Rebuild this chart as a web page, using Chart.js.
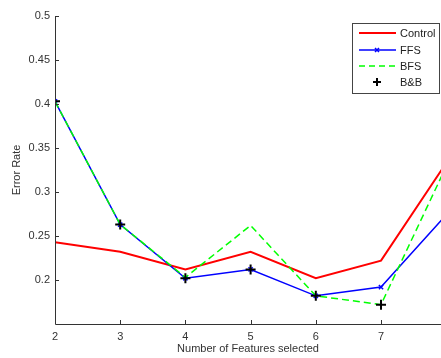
<!DOCTYPE html>
<html>
<head>
<meta charset="utf-8">
<script src="https://cdn.jsdelivr.net/npm/chart.js@4/dist/chart.umd.min.js"></script>
<style>
  html, body { margin: 0; padding: 0; background: #fff; }
  #wrap { width: 441px; height: 358px; }
</style>
</head>
<body>
<div id="wrap"><canvas id="chart" width="441" height="358"></canvas></div>
<script>
const features = [2, 3, 4, 5, 6, 7, 8];
const control = [0.243, 0.232, 0.212, 0.232, 0.202, 0.222, 0.333];
const ffs = [0.403, 0.263, 0.202, 0.212, 0.182, 0.192, 0.274];
const bfs = [0.403, 0.263, 0.203, 0.262, 0.182, 0.172, 0.329];
const bnb = [0.403, 0.263, 0.202, 0.212, 0.182, 0.172, null];
const xTicks = [2, 3, 4, 5, 6, 7];
const yTicks = [0.2, 0.25, 0.3, 0.35, 0.4, 0.45, 0.5];

const toPoints = (vals) => features.map((x, i) => ({ x: x, y: vals[i] }));

const axisColor = '#333';

// MATLAB style inward ticks and the legend box
const matlabAxes = {
    id: 'matlabAxes',
    afterDraw(chart) {
        const ctx = chart.ctx;
        const area = chart.chartArea;
        const xs = chart.scales.x;
        const ys = chart.scales.y;
        ctx.save();
        ctx.strokeStyle = axisColor;
        ctx.lineWidth = 1;
        ctx.beginPath();
        ctx.moveTo(area.left + 0.5, area.top);
        ctx.lineTo(area.left + 0.5, area.bottom + 0.5);
        ctx.lineTo(area.right, area.bottom + 0.5);
        xTicks.forEach(v => {
            const px = Math.round(xs.getPixelForValue(v)) + 0.5;
            ctx.moveTo(px, area.bottom);
            ctx.lineTo(px, area.bottom - 4);
        });
        yTicks.forEach(v => {
            const py = Math.round(ys.getPixelForValue(v)) + 0.5;
            ctx.moveTo(area.left, py);
            ctx.lineTo(area.left + 4, py);
        });
        ctx.stroke();

        // legend
        const bx = 352.5, by = 23.5, bw = 87, bh = 70;
        ctx.fillStyle = '#fff';
        ctx.fillRect(bx, by, bw, bh);
        ctx.strokeStyle = '#444';
        ctx.strokeRect(bx, by, bw, bh);
        const rows = [
            { label: 'Control', color: '#ff0000', y: 33, dash: [], line: true, width: 2 },
            { label: 'FFS', color: '#0000ff', y: 50, dash: [], line: true, width: 1.5, marker: 'x' },
            { label: 'BFS', color: '#00ff00', y: 66, dash: [6, 4], line: true, width: 1.5 },
            { label: 'B&B', color: '#000', y: 82, line: false, marker: '+' }
        ];
        ctx.font = '11px "Liberation Sans", Arial, sans-serif';
        ctx.textBaseline = 'middle';
        rows.forEach(r => {
            if (r.line) {
                ctx.strokeStyle = r.color;
                ctx.lineWidth = r.width;
                ctx.setLineDash(r.dash);
                ctx.beginPath();
                ctx.moveTo(359, r.y);
                ctx.lineTo(396, r.y);
                ctx.stroke();
                ctx.setLineDash([]);
            }
            if (r.marker === 'x') {
                ctx.strokeStyle = r.color;
                ctx.lineWidth = 1.5;
                ctx.beginPath();
                ctx.moveTo(375, r.y - 2); ctx.lineTo(379, r.y + 2);
                ctx.moveTo(375, r.y + 2); ctx.lineTo(379, r.y - 2);
                ctx.stroke();
            }
            if (r.marker === '+') {
                ctx.strokeStyle = r.color;
                ctx.lineWidth = 2;
                ctx.beginPath();
                ctx.moveTo(373, r.y); ctx.lineTo(381, r.y);
                ctx.moveTo(377, r.y - 4); ctx.lineTo(377, r.y + 4);
                ctx.stroke();
            }
            ctx.fillStyle = '#222';
            ctx.fillText(r.label, 400, r.y + 1);
        });
        ctx.restore();
    }
};

new Chart(document.getElementById('chart').getContext('2d'), {
    type: 'line',
    data: {
        datasets: [
            {
                label: 'Control',
                data: toPoints(control),
                borderColor: '#ff0000',
                borderWidth: 2,
                pointRadius: 0,
                order: 4
            },
            {
                label: 'FFS',
                data: toPoints(ffs),
                borderColor: '#0000ff',
                borderWidth: 1.5,
                pointStyle: 'crossRot',
                pointRadius: 3,
                pointBorderColor: '#0000ff',
                pointBorderWidth: 1.5,
                order: 3
            },
            {
                label: 'BFS',
                data: toPoints(bfs),
                borderColor: '#00ff00',
                borderWidth: 1.5,
                borderDash: [7, 4],
                pointRadius: 0,
                order: 2
            },
            {
                label: 'B&B',
                data: toPoints(bnb),
                showLine: false,
                pointStyle: 'cross',
                pointRadius: 5,
                pointBorderColor: '#000',
                pointBorderWidth: 2,
                order: 1
            }
        ]
    },
    options: {
        responsive: false,
        animation: false,
        layout: { autoPadding: false, padding: { top: 16, right: 0, left: 0, bottom: 0 } },
        plugins: {
            legend: { display: false },
            tooltip: { enabled: false }
        },
        elements: { line: { tension: 0 } },
        scales: {
            x: {
                type: 'linear',
                min: 2,
                max: 7.92,
                afterBuildTicks: (scale) => { scale.ticks = xTicks.map(v => ({ value: v })); },
                afterFit: (scale) => { scale.height = 34; },
                grid: { display: false, drawTicks: false },
                border: { display: false },
                ticks: {
                    color: axisColor,
                    padding: 6,
                    maxRotation: 0,
                    font: { family: '"Liberation Sans", Arial, sans-serif', size: 11 }
                },
                title: {
                    display: true,
                    text: 'Number of Features selected',
                    color: axisColor,
                    padding: { top: 0, bottom: 2 },
                    font: { family: '"Liberation Sans", Arial, sans-serif', size: 11 }
                }
            },
            y: {
                min: 0.15,
                max: 0.5,
                afterBuildTicks: (scale) => { scale.ticks = yTicks.map(v => ({ value: v })); },
                afterFit: (scale) => { scale.width = 55; },
                grid: { display: false, drawTicks: false },
                border: { display: false },
                ticks: {
                    color: axisColor,
                    padding: 5,
                    callback: (v) => String(+v.toFixed(2)),
                    font: { family: '"Liberation Sans", Arial, sans-serif', size: 11 }
                },
                title: {
                    display: true,
                    text: 'Error Rate',
                    color: axisColor,
                    padding: { top: 10, bottom: 0 },
                    font: { family: '"Liberation Sans", Arial, sans-serif', size: 11 }
                }
            }
        }
    },
    plugins: [matlabAxes]
});
</script>
</body>
</html>
